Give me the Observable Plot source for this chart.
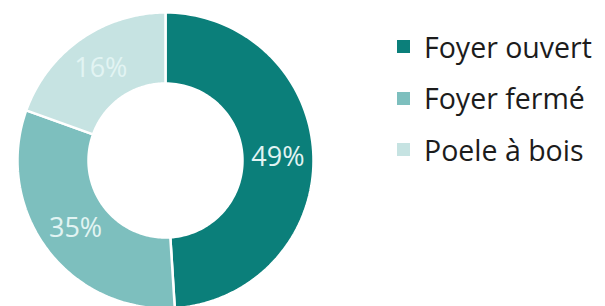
<!DOCTYPE html>
<html>
<head>
<meta charset="utf-8">
<script src="https://cdn.jsdelivr.net/npm/d3@7"></script>
<script src="https://cdn.jsdelivr.net/npm/@observablehq/plot@0.6"></script>
<style>
  html, body { margin: 0; padding: 0; background: #fff; }
  #wrap { position: relative; width: 605px; height: 306px; overflow: hidden; }
  #legend { position: absolute; left: 397px; top: 21px; font-family: "Open Sans", sans-serif; font-size: 28.5px; color: #1c1c1c; }
  .row { display: flex; align-items: center; height: 51.5px; }
  .sw { width: 13px; height: 13px; margin-right: 14px; flex: none; }
</style>
</head>
<body>
<div id="wrap"><div id="legend"></div></div>
<script>
const categories = ["Foyer ouvert", "Foyer fermé", "Poele à bois"];
const shares = [49, 31.5, 19.5];
const labels = ["49%", "35%", "16%"];
const colors = ["#0b7f7a", "#7dbfbe", "#c6e3e2"];

const R_OUT = 148, R_IN = 77;
const pie = d3.pie().sort(null).value(d => d)(shares);

const poly = [];
pie.forEach((p, i) => {
  const n = 90;
  const pts = [];
  for (let k = 0; k <= n; k++) { const a = p.startAngle + (p.endAngle - p.startAngle) * k / n; pts.push([R_OUT * Math.sin(a), R_OUT * Math.cos(a)]); }
  for (let k = n; k >= 0; k--) { const a = p.startAngle + (p.endAngle - p.startAngle) * k / n; pts.push([R_IN * Math.sin(a), R_IN * Math.cos(a)]); }
  pts.push(pts[0]);
  pts.forEach(([x, y]) => poly.push({cat: categories[i], x, y}));
});

const labelData = pie.map((p, i) => {
  const a = (p.startAngle + p.endAngle) / 2, r = (R_OUT + R_IN) / 2;
  return {label: labels[i], x: r * Math.sin(a), y: r * Math.cos(a)};
});

const chart = Plot.plot({
  width: 605, height: 306,
  margin: 0,
  x: {domain: [-165, 440], axis: null},
  y: {domain: [-146, 160], axis: null},
  color: {domain: categories, range: colors},
  style: {fontFamily: "Open Sans, sans-serif", background: "transparent"},
  marks: [
    Plot.line(poly, {x: "x", y: "y", z: "cat", fill: "cat", stroke: "white", strokeWidth: 2.5, curve: "linear"}),
    Plot.text(labelData, {x: "x", y: "y", text: "label", fill: "#e2f4f3", fontSize: 27})
  ]
});
const wrap = document.getElementById("wrap");
wrap.insertBefore(chart, wrap.firstChild);

const legend = d3.select("#legend");
categories.forEach((c, i) => {
  const row = legend.append("div").attr("class", "row");
  row.append("div").attr("class", "sw").style("background", colors[i]);
  row.append("span").text(c);
});
</script>
</body>
</html>
